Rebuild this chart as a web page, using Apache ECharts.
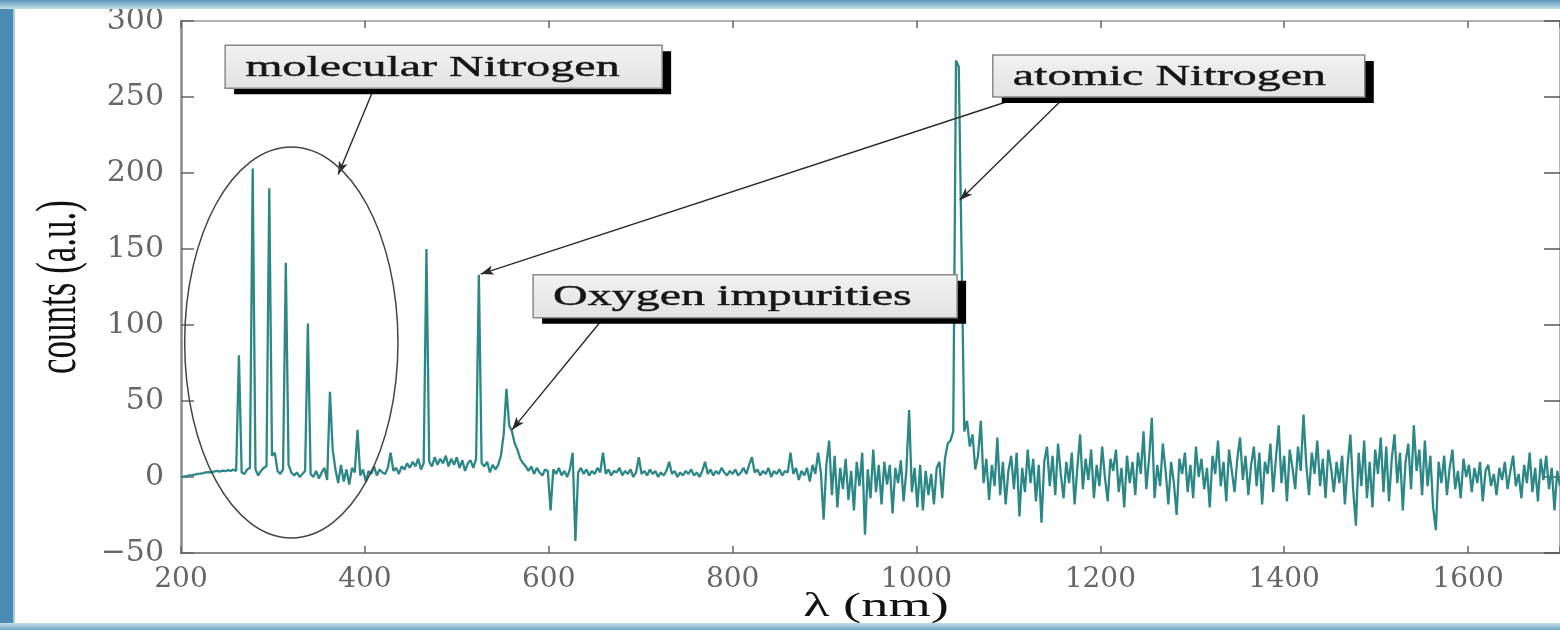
<!DOCTYPE html>
<html>
<head>
<meta charset="utf-8">
<title>Emission spectrum</title>
<script src="https://cdn.jsdelivr.net/npm/echarts@6/dist/echarts.min.js"></script>
<style>
    html, body { margin: 0; padding: 0; background: #fff; }
    #chart { width: 1560px; height: 630px; }
</style>
</head>
<body>
<div id="chart"></div>
<script>
// spectrum, one sample every 3 nm, split by region
var STEP = 3;

var n2BandStart = 200;
var n2Band = [
    0, 0.3, 0.5, 1, 1.2, 1.5, 2, 2.2, 2.5, 3,
    3.2, 3, 3.6, 4, 3.5, 4.2, 3.8, 4.5, 4, 5,
    4, 80, 3, 2, 5, 6, 203, 5, 1, 4,
    6, 7, 190, 14, 16, 4, 2, 5, 141, 8,
    3, 1, 3, 0, 2, 4, 101, 2, 0, 4,
    -1, 3, 6, -2, 56, 18, 5, -4, 8, -3,
    5, -5, 6, 3, 31, 1, 5
];

var visibleStart = 401;
var visible = [
    -3, 4, 2, 7, 1, 5, 3, 2, 6, 16,
    4, 6, 2, 7, 5, 9, 6, 10, 7, 12,
    5, 9, 150, 10, 7, 13, 8, 12, 9, 14,
    7, 12, 8, 13, 6, 11, 4, 9, 11, 6,
    12, 133, 9, 7, 10, 3, 8, 5, 8, 14,
    28, 58, 34, 30, 22, 18, 12, 9, 7, 4,
    7, 2, 6, 3, 1, 5, 4, -22, 5, 2,
    6, 1, 4, 0, 5, 16, -42, 3, 6, 2,
    5, 1, 4, 2, 6, 3, 16, 2, 5, 1,
    4, 3, 6, 1, 4, 2, 5, 0, 3, 13,
    2, 4, 1, 5, 2, 4, 0, 3, 1, 4,
    10, 2, 4, 0, 3, 1, 4, 2, 5, 1,
    3, 0, 4, 10, 2, 5, 1, 4, 2, 6,
    3, 1, 4, 2, 5, 1, 3, 6, 2, 8,
    13, 3, 5, 1, 4, 2, 6, 0, 4, 2,
    5, 1, 4, 3, 16, 2, 6, -2, 4, 1,
    6, -3, 8, 2, 16
];

var nirAStart = 896;
var nirA = [
    3, -28, 8, 24, -12, 14, -20, 6, -8, 12,
    -15, 4, -22, 10, -6, 16, -38, 5, -14, 18,
    -10, 8, -18, 10, -5, 8, -24, 6, -4, 11,
    -16, 4, 44, -10, 6, -20, 8, -22, 4, -12,
    2, -18, 6, 10, -14, 12, 22, 24, 30, 274,
    270, 150, 30, 37
];

var nirBStart = 1058;
var nirB = [
    20, 28, 5, 14, 37, -4, 12, -15, 8, -6,
    26, -12, 10, -18, 4, 14, -8, 16, -26, 6,
    -10, 18, -4, 12, -16, 8, -30, 10, 20, -6,
    14, -12, 22, 2, -14, 10, -4, 16, -18, 6,
    28, -8, 12, -2, 18, -14, 8, -6, 20, 0,
    -16, 12, 4, 18, -10, 6, -20, 14, -4, 10,
    -12, 16, 2, 30, -8, 12, 39, -14, 8, -6,
    22, 4, -18, 10, -4, -25, 12, 2, 16, -10,
    8, -14, 20, 0, 12, -8, 6, -20, 14, 2,
    24, -6, 10, -16, 18, 4, -10, 12, 26, -2,
    14, -12, 8, 20, -6, 16, -18, 10, 2, 22,
    -10, 12, 34, -4, 14, -16, 18, 6, -8, 20,
    4, 41, 8, -12, 16, 2, 24, -6, 12, -14,
    18, 6, -10, 10, -4, 14, -18, 8, 28, -8,
    -32, 16, -6, 24, -14, 10, -20, 18, 2, 26,
    -10, 20, -16, 12, 28, -4, 16, -22, 10, 22,
    -8, 34, 4, 18, -12, 24, -6, 14, -20, -35,
    10, -4, 14, -12, 6, 18, -8, 4, -14, 12,
    0, 8, -10, 6, -4, 10, -16, 4, 8, -6,
    2, -12, 6, -2, 10, -8, 4, 14, -6, 2,
    -14, 8, -4, 16, -10, 6, -16, 12, -2, 14,
    -8, 6, -22, 4, -6
];

// annotations, placed in data coordinates
var boxes = [
    { text: 'molecular Nitrogen', at: [248, 284], width: 437, height: 43 },
    { text: 'atomic Nitrogen', at: [1083, 277.6], width: 372, height: 42 },
    { text: 'Oxygen impurities', at: [583, 133], width: 424, height: 43 }
];
var arrows = [
    [[408, 253], [371, 199]],
    [[1104, 248], [526, 133.5]],
    [[1158, 248], [1047, 182]],
    [[656, 102], [560, 31]]
];
var ring = { center: [320, 88.5], rx: 116, ry: 128.6 };

function region(start, values) {
    var out = [];
    for (var i = 0; i < values.length; i++) {
        out.push([start + i * STEP, values[i]]);
    }
    return out;
}

var spectrum = [].concat(
    region(n2BandStart, n2Band),
    region(visibleStart, visible),
    region(nirAStart, nirA),
    region(nirBStart, nirB)
);

var dom = document.getElementById('chart');
var chart = echarts.init(dom);

var tickFont = 'DejaVu Serif';

var option = {
    backgroundColor: '#ffffff',
    animation: false,
    grid: {
        left: 181,
        right: 0,
        top: 21,
        bottom: 77,
        outerBoundsMode: 'none'
    },
    xAxis: [{
        type: 'value',
        position: 'bottom',
        min: 200,
        max: 1700,
        interval: 200,
        axisLine: { show: true, onZero: false, lineStyle: { color: '#8a8a8a', width: 2 } },
        axisTick: { show: true, inside: true, length: 7, lineStyle: { color: '#666', width: 1.5 } },
        axisLabel: {
            margin: 13,
            fontFamily: tickFont,
            fontSize: 28,
            color: '#666',
            formatter: function (v) {
                return v % 200 === 0 ? String(v) : '';
            }
        },
        splitLine: { show: false }
    }, {
        type: 'value',
        position: 'top',
        min: 200,
        max: 1700,
        interval: 200,
        axisLine: { show: true, onZero: false, lineStyle: { color: '#999', width: 1.5 } },
        axisTick: { show: true, inside: true, length: 7, lineStyle: { color: '#666', width: 1.5 } },
        axisLabel: { show: false },
        splitLine: { show: false }
    }],
    yAxis: [{
        type: 'value',
        position: 'left',
        min: -50,
        max: 300,
        interval: 50,
        axisLine: { show: true, onZero: false, lineStyle: { color: '#8a8a8a', width: 2.5 } },
        axisTick: { show: true, inside: true, length: 13, lineStyle: { color: '#666', width: 1.5 } },
        axisLabel: {
            margin: 17,
            fontFamily: tickFont,
            fontSize: 30,
            color: '#666',
            formatter: function (v) {
                return v < 0 ? '\u2212' + Math.abs(v) : String(v);
            }
        },
        splitLine: { show: false }
    }, {
        type: 'value',
        position: 'right',
        min: -50,
        max: 300,
        interval: 50,
        axisLine: { show: true, onZero: false, lineStyle: { color: '#999', width: 1.5 } },
        axisTick: { show: true, inside: true, length: 16, lineStyle: { color: '#555', width: 1.5 } },
        axisLabel: { show: false },
        splitLine: { show: false }
    }],
    series: [{
        name: 'counts',
        type: 'line',
        xAxisIndex: 0,
        yAxisIndex: 0,
        data: spectrum,
        showSymbol: false,
        symbol: 'none',
        lineStyle: { color: '#2c8787', width: 2.3 },
        z: 3,
        markLine: {
            silent: true,
            symbol: ['none', 'arrow'],
            symbolSize: [7, 13],
            label: { show: false },
            lineStyle: { color: '#2a2a2a', width: 1.4, type: 'solid' },
            data: arrows.map(function (a) {
                return [{ coord: a[0] }, { coord: a[1] }];
            })
        }
    }]
};

chart.setOption(option);

function toPx(p) {
    return chart.convertToPixel({ seriesIndex: 0 }, p);
}

function buildGraphics() {
    var els = [];

    // blue frame of the slide
    els.push({ type: 'rect', shape: { x: 0, y: 0, width: 13, height: 630 }, style: { fill: '#4a8bb3' }, z: 1 });
    els.push({ type: 'rect', shape: { x: 13, y: 0, width: 2, height: 630 }, style: { fill: '#a9cde0' }, z: 1 });
    els.push({
        type: 'rect', shape: { x: 0, y: 0, width: 1560, height: 9 },
        style: { fill: new echarts.graphic.LinearGradient(0, 0, 0, 1, [
            { offset: 0, color: '#5b97bd' }, { offset: 1, color: '#c4dde9' }
        ]) }, z: 1
    });
    els.push({
        type: 'rect', shape: { x: 0, y: 623, width: 1560, height: 7 },
        style: { fill: new echarts.graphic.LinearGradient(0, 0, 0, 1, [
            { offset: 0, color: '#c4dde9' }, { offset: 1, color: '#6ea7c7' }
        ]) }, z: 1
    });

    // ellipse round the N2 band
    var c = toPx(ring.center);
    var e = toPx([ring.center[0] + ring.rx, ring.center[1] + ring.ry]);
    els.push({
        type: 'ellipse',
        shape: { cx: c[0], cy: c[1], rx: Math.abs(e[0] - c[0]), ry: Math.abs(c[1] - e[1]) },
        style: { fill: 'none', stroke: '#444', lineWidth: 1.5 },
        z: 50
    });

    // label boxes with a hard black drop shadow
    boxes.forEach(function (b) {
        var p = toPx(b.at);
        els.push({
            type: 'rect',
            shape: { x: p[0] + 9, y: p[1] + 6, width: b.width, height: b.height },
            style: { fill: '#000' },
            z: 100
        });
        els.push({
            type: 'rect',
            shape: { x: p[0], y: p[1], width: b.width, height: b.height },
            style: {
                fill: new echarts.graphic.LinearGradient(0, 0, 0, 1, [
                    { offset: 0, color: '#f2f2f2' }, { offset: 1, color: '#e2e2e2' }
                ]),
                stroke: '#8a8a8a',
                lineWidth: 1.5
            },
            z: 101
        });
        els.push({
            type: 'text',
            x: p[0] + 20,
            y: p[1] + b.height / 2 + 1,
            scaleX: 1.6,
            style: {
                text: b.text,
                fontFamily: 'Liberation Serif',
                fontSize: 30,
                fill: '#161616',
                stroke: '#3a3a3a',
                lineWidth: 0.5,
                align: 'left',
                verticalAlign: 'middle'
            },
            z: 102
        });
    });

    // axis titles
    els.push({
        type: 'text',
        x: 60,
        y: 287,
        rotation: Math.PI / 2,
        scaleY: 1.6,
        style: {
            text: 'counts (a.u.)',
            fontFamily: 'Liberation Serif',
            fontSize: 35,
            fill: '#111',
            align: 'center',
            verticalAlign: 'middle'
        },
        z: 100
    });
    els.push({
        type: 'text',
        x: 876,
        y: 607,
        scaleX: 1.6,
        style: {
            text: '\u03bb (nm)',
            fontFamily: 'Liberation Serif',
            fontSize: 34,
            fill: '#111',
            align: 'center',
            verticalAlign: 'middle'
        },
        z: 100
    });

    return els;
}

chart.setOption({ graphic: buildGraphics() });

window.addEventListener('resize', function () {
    chart.resize();
    chart.setOption({ graphic: buildGraphics() });
});
</script>
</body>
</html>
